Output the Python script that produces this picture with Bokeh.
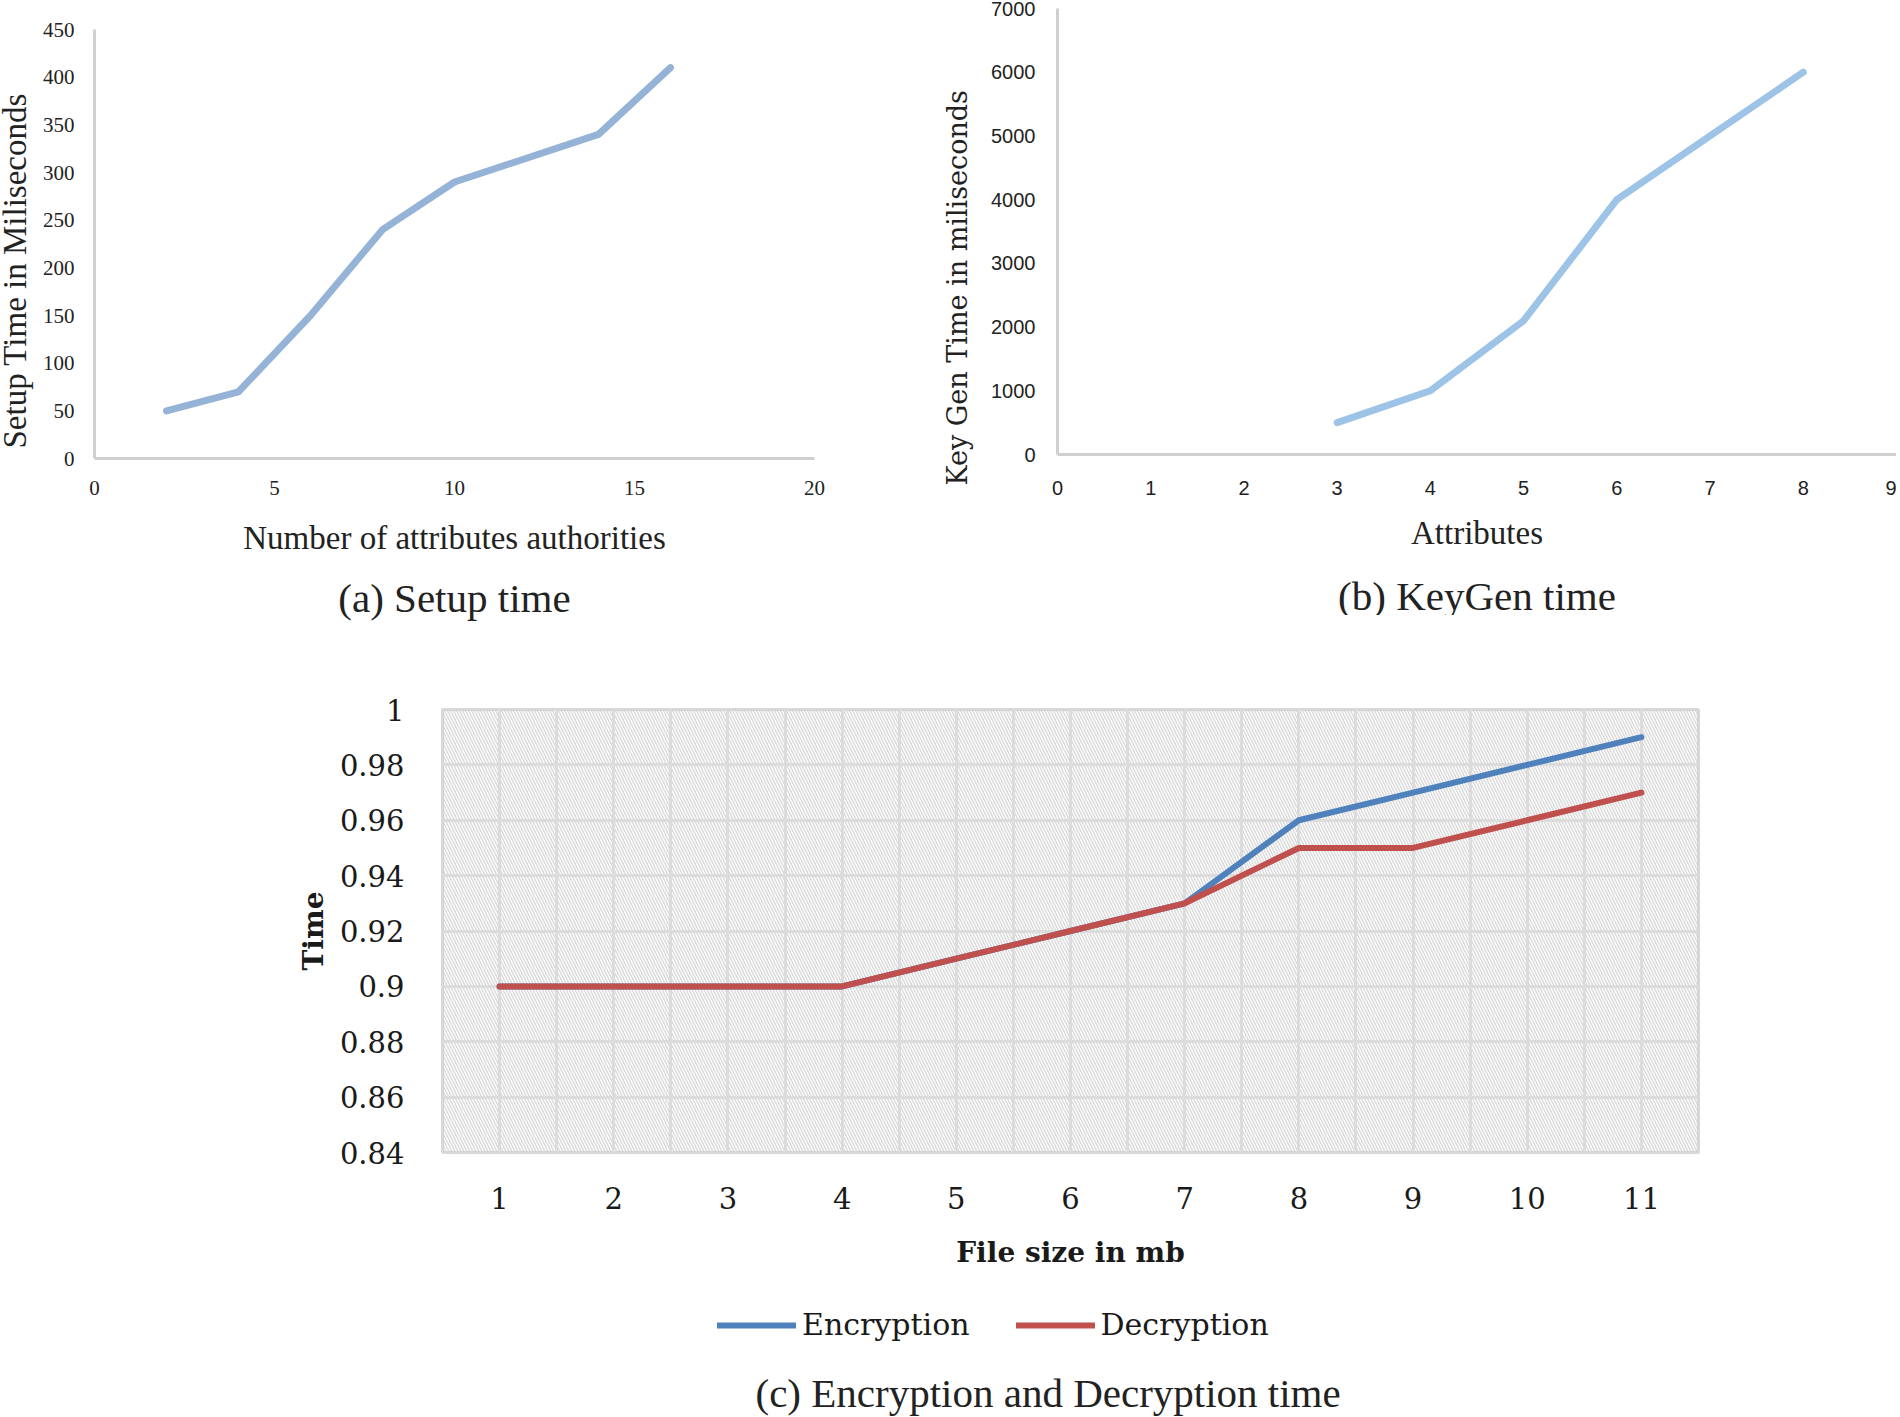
from bokeh.plotting import figure
from bokeh.models import (Range1d, FixedTicker, Title, Legend, LegendItem,
                          BoxAnnotation, CustomJSTickFormatter)
from bokeh.layouts import column, row
from bokeh.embed import file_html
from bokeh.resources import INLINE

# ---------------- data ----------------
setup_authorities = [2, 4, 6, 8, 10, 12, 14, 16]
setup_time_ms = [50, 70, 150, 240, 290, 315, 340, 410]
setup_xticks = [0, 5, 10, 15, 20]
setup_yticks = [0, 50, 100, 150, 200, 250, 300, 350, 400, 450]

keygen_attributes = [3, 4, 5, 6, 7, 8]
keygen_time_ms = [500, 1000, 2100, 4000, 5000, 6000]
keygen_xticks = [0, 1, 2, 3, 4, 5, 6, 7, 8, 9]
keygen_yticks = [0, 1000, 2000, 3000, 4000, 5000, 6000, 7000]

file_size_mb = [1, 2, 3, 4, 5, 6, 7, 8, 9, 10, 11]
encryption_time = [0.90, 0.90, 0.90, 0.90, 0.91, 0.92, 0.93, 0.96, 0.97, 0.98, 0.99]
decryption_time = [0.90, 0.90, 0.90, 0.90, 0.91, 0.92, 0.93, 0.95, 0.95, 0.96, 0.97]
time_yticks = [0.84, 0.86, 0.88, 0.90, 0.92, 0.94, 0.96, 0.98, 1.00]
series_names = ["Encryption", "Decryption"]
series_colors = ["#4F81BD", "#C0504D"]
series_values = [encryption_time, decryption_time]

SERIF = "Liberation Serif"
AXIS_GRAY = "#d0d0d0"
TXT = "#222222"


def style_simple(p, tick_font, tick_size):
    p.xgrid.visible = False
    p.ygrid.visible = False
    p.outline_line_color = None
    for ax in (p.xaxis[0], p.yaxis[0]):
        ax.axis_line_color = AXIS_GRAY
        ax.axis_line_width = 3
        ax.major_tick_line_color = None
        ax.minor_tick_line_color = None
        ax.major_label_text_font = tick_font
        ax.major_label_text_font_size = tick_size
        ax.major_label_text_color = TXT
        ax.axis_label_text_font_style = "normal"
        ax.axis_label_text_color = TXT
    p.yaxis.major_tick_out = 0
    p.yaxis.major_tick_in = 0
    p.yaxis.minor_tick_out = 0


# ---------------- (a) Setup time ----------------
pa = figure(frame_width=720, frame_height=429, output_backend="svg",
            toolbar_location=None, x_range=Range1d(0, 20), y_range=Range1d(0, 450),
            min_border_left=110, min_border_right=111, min_border_top=29,
            min_border_bottom=190)
pa.styles = {"margin-left": "-16px"}
pa.line(setup_authorities, setup_time_ms, line_color="#95B3D7", line_width=7,
        line_cap="round", line_join="round")
style_simple(pa, SERIF, "21px")
pa.xaxis.ticker = FixedTicker(ticks=setup_xticks)
pa.yaxis.ticker = FixedTicker(ticks=setup_yticks)
pa.xaxis.major_label_standoff = 16
pa.yaxis.major_label_standoff = 20
pa.xaxis.axis_label = "Number of attributes authorities"
pa.xaxis.axis_label_text_font = SERIF
pa.xaxis.axis_label_text_font_size = "33px"
pa.xaxis.axis_label_standoff = 22
pa.add_layout(Title(text="Setup Time in Miliseconds", align="left", offset=10,
                    vertical_align="middle", standoff=12, text_font=SERIF,
                    text_font_size="33px", text_font_style="normal",
                    text_color=TXT), "left")
pa.add_layout(Title(text="(a) Setup time", align="center", text_font=SERIF,
                    text_font_size="41px", text_font_style="normal",
                    text_color=TXT, standoff=29), "below")

# ---------------- (b) KeyGen time ----------------
pb = figure(frame_width=839, frame_height=446, output_backend="svg",
            toolbar_location=None, x_range=Range1d(0, 9), y_range=Range1d(0, 7000),
            min_border_left=130, min_border_right=0, min_border_top=0,
            min_border_bottom=190)
pb.styles = {"margin-top": "-21px"}
pb.line(keygen_attributes, keygen_time_ms, line_color="#9DC3E6", line_width=7,
        line_cap="round", line_join="round")
style_simple(pb, "Liberation Sans", "20px")
pb.xaxis.ticker = FixedTicker(ticks=keygen_xticks)
pb.yaxis.ticker = FixedTicker(ticks=keygen_yticks)
pb.xaxis.major_label_standoff = 20
pb.yaxis.major_label_standoff = 22
pb.xaxis.axis_label = "Attributes"
pb.xaxis.axis_label_text_font = SERIF
pb.xaxis.axis_label_text_font_size = "33px"
pb.xaxis.axis_label_standoff = 17
pb.add_layout(Title(text="Key Gen Time in miliseconds", align="left", offset=-31,
                    vertical_align="middle", standoff=30, text_font="DejaVu Serif",
                    text_font_size="27px", text_font_style="normal",
                    text_color=TXT), "left")
pb.add_layout(Title(text="(b) KeyGen time", align="center", text_font=SERIF,
                    text_font_size="41px", text_font_style="normal",
                    text_color=TXT, standoff=34), "below")

# ---------------- (c) Encryption / Decryption ----------------
CFONT = "DejaVu Serif"
C_LEFT, C_FRAME_W, C_RIGHT = 442, 1256, 182
half_grid = sorted(set([f - 0.5 for f in file_size_mb] + file_size_mb + [file_size_mb[-1] + 0.5]))
pc = figure(frame_width=C_FRAME_W, frame_height=443, output_backend="svg",
            toolbar_location=None,
            x_range=Range1d(file_size_mb[0] - 0.5, file_size_mb[-1] + 0.5),
            y_range=Range1d(time_yticks[0], time_yticks[-1]),
            min_border_left=C_LEFT, min_border_right=C_RIGHT, min_border_top=61,
            min_border_bottom=138)
pc.add_layout(BoxAnnotation(level="image", fill_alpha=0, line_alpha=0,
                            hatch_pattern="\\", hatch_color="#cccccc",
                            hatch_scale=6, hatch_weight=1.5, hatch_alpha=0.7))
for vals, col in zip(series_values, series_colors):
    pc.line(file_size_mb, vals, line_color=col, line_width=6,
            line_cap="round", line_join="round")
pc.outline_line_color = "#d9d9d9"
pc.outline_line_width = 3
pc.xgrid.ticker = FixedTicker(ticks=half_grid)
pc.ygrid.ticker = FixedTicker(ticks=time_yticks)
for g in (pc.xgrid[0], pc.ygrid[0]):
    g.grid_line_color = "#dcdcdc"
    g.grid_line_width = 3
pc.xaxis.ticker = FixedTicker(ticks=file_size_mb)
pc.yaxis.ticker = FixedTicker(ticks=time_yticks)
pc.yaxis.formatter = CustomJSTickFormatter(code="return (Math.round(tick*100)/100).toString();")
for ax in (pc.xaxis[0], pc.yaxis[0]):
    ax.axis_line_color = None
    ax.major_tick_line_color = None
    ax.minor_tick_line_color = None
    ax.major_label_text_font = CFONT
    ax.major_label_text_font_size = "29px"
    ax.major_label_text_color = "#1a1a1a"
    ax.axis_label_text_font = CFONT
    ax.axis_label_text_font_size = "28px"
    ax.axis_label_text_font_style = "bold"
    ax.axis_label_text_color = "#1a1a1a"
pc.xaxis.major_label_standoff = 28
pc.yaxis.major_label_standoff = 32
pc.xaxis.axis_label = "File size in mb"
pc.yaxis.axis_label = "Time"
pc.xaxis.axis_label_standoff = 24
pc.yaxis.axis_label_standoff = 7

# legend + caption strip under (c): same frame columns as (c);
# the legend proxies use the series data, kept outside this strip's view.
pl = figure(frame_width=C_FRAME_W, frame_height=63, output_backend="svg",
            toolbar_location=None, x_axis_type=None, y_axis_type=None,
            x_range=Range1d(-1, 0), y_range=Range1d(-1, 0),
            min_border_left=C_LEFT, min_border_right=C_RIGHT, min_border_top=16,
            min_border_bottom=0)
pl.outline_line_color = None
swatches = [pl.line(file_size_mb, vals, line_color=col, line_width=6, line_cap="round")
            for vals, col in zip(series_values, series_colors)]
legend = Legend(items=[LegendItem(label=n, renderers=[r])
                       for n, r in zip(series_names, swatches)],
                orientation="horizontal", location=(275, 27),
                border_line_color=None, background_fill_alpha=0,
                glyph_width=79, glyph_height=30, label_standoff=6, spacing=46,
                padding=0, margin=0,
                label_text_font=CFONT, label_text_font_size="30px",
                label_text_color="#1a1a1a")
pl.add_layout(legend)
pl.add_layout(Title(text="(c) Encryption and Decryption time", align="left", offset=313,
                    vertical_align="top", standoff=0,
                    text_font=SERIF, text_font_size="41px", text_font_style="normal",
                    text_color=TXT), "below")

layout = column(row(pa, pb), pc, pl)
open("out.html", "w").write(file_html(layout, INLINE))
